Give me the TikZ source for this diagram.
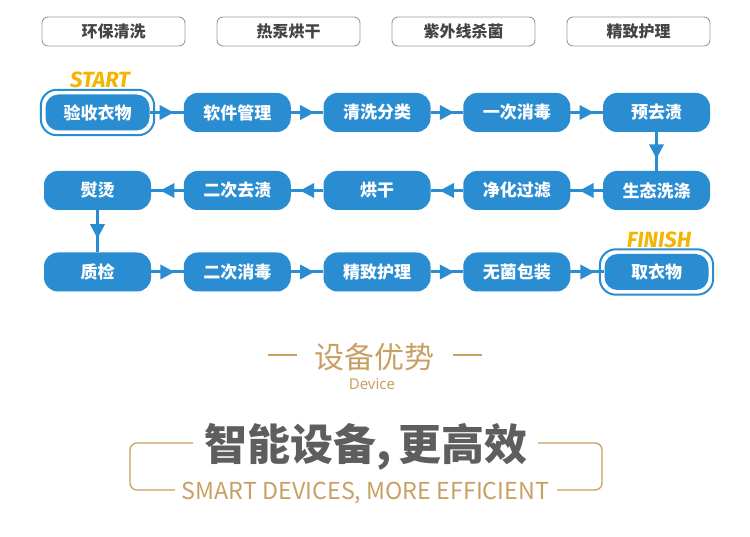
\documentclass[tikz,border=0pt]{standalone}
\usepackage{fontspec}
\usetikzlibrary{decorations.markings}
\newfontfamily\cjk{Noto Sans CJK SC}
\newfontfamily\latin{Noto Sans}
\newfontfamily\tagfont{Fira Sans}
\definecolor{flowblue}{HTML}{2A8DD2}
\definecolor{tabgray}{HTML}{9A9A9A}
\definecolor{tabtext}{HTML}{444444}
\definecolor{gold}{HTML}{C9A064}
\definecolor{titlegray}{HTML}{5E5E5E}
\definecolor{tagyellow}{HTML}{F5B400}
\tikzset{
  tabbox/.style={draw=tabgray, line width=0.9pt, rounded corners=6pt, fill=white,
    minimum width=143pt, minimum height=29pt, inner sep=0pt,
    text=tabtext, font=\cjk\bfseries\fontsize{16}{16}\selectfont},
  stepbox/.style={fill=flowblue, rounded corners=14pt,
    minimum width=107pt, minimum height=39pt, inner sep=0pt,
    text=white, font=\cjk\bfseries\fontsize{17}{17}\selectfont},
  endbox/.style={stepbox, minimum width=104pt, minimum height=36pt, rounded corners=13pt},
  ring/.style={draw=flowblue, line width=2pt, rounded corners=16pt},
  flow/.style={draw=flowblue, line width=3pt,
    postaction={decorate, decoration={markings,
      mark=at position 0.5 with {\fill[flowblue] (-7pt,-7.5pt) -- (7pt,0pt) -- (-7pt,7.5pt) -- cycle;}}}},
  tag/.style={text=tagyellow, font=\tagfont\bfseries\itshape\fontsize{22}{22}\selectfont, inner sep=0pt},
  goldline/.style={draw=gold, line width=1.3pt},
}
\begin{document}
\begin{tikzpicture}[x=1pt,y=-1pt]
\useasboundingbox[fill=white] (0,0) rectangle (750,537);

% feature tabs
\node[tabbox] (t1) at (113.5,31.5) {环保清洗};
\node[tabbox] (t2) at (288.5,31.5) {热泵烘干};
\node[tabbox] (t3) at (463.5,31.5) {紫外线杀菌};
\node[tabbox] (t4) at (638.5,31.5) {精致护理};

% process steps, row 1
\node[endbox]  (s1) at (97.5,112.5)   {验收衣物};
\node[stepbox] (s2) at (237.25,112.5) {软件管理};
\node[stepbox] (s3) at (377,112.5)    {清洗分类};
\node[stepbox] (s4) at (516.75,112.5) {一次消毒};
\node[stepbox] (s5) at (656.5,112.5)  {预去渍};
% row 2
\node[stepbox] (s6)  at (656.5,190.5)  {生态洗涤};
\node[stepbox] (s7)  at (516.75,190.5) {净化过滤};
\node[stepbox] (s8)  at (377,190.5)    {烘干};
\node[stepbox] (s9)  at (237.25,190.5) {二次去渍};
\node[stepbox] (s10) at (97.5,190.5)   {熨烫};
% row 3
\node[stepbox] (s11) at (97.5,272)   {质检};
\node[stepbox] (s12) at (237.25,272) {二次消毒};
\node[stepbox] (s13) at (377,272)    {精致护理};
\node[stepbox] (s14) at (516.75,272) {无菌包装};
\node[endbox]  (s15) at (656.5,272)  {取衣物};

% outer rings of the start and finish steps
\draw[ring] ([shift={(-4.5pt,-4.5pt)}]s1.south west) rectangle ([shift={(4.5pt,4.5pt)}]s1.north east);
\draw[ring] ([shift={(-4.5pt,-4.5pt)}]s15.south west) rectangle ([shift={(4.5pt,4.5pt)}]s15.north east);

\node[tag] (start)  at (100,80)  {START};
\node[tag] (finish) at (659,240) {FINISH};

% connectors
\draw[flow] (s1.east) -- (s2.west);
\draw[flow] (s2.east) -- (s3.west);
\draw[flow] (s3.east) -- (s4.west);
\draw[flow] (s4.east) -- (s5.west);
\draw[flow] (s5.south) -- (s6.north);
\draw[flow] (s6.west) -- (s7.east);
\draw[flow] (s7.west) -- (s8.east);
\draw[flow] (s8.west) -- (s9.east);
\draw[flow] (s9.west) -- (s10.east);
\draw[flow] (s10.south) -- (s11.north);
\draw[flow] (s11.east) -- (s12.west);
\draw[flow] (s12.east) -- (s13.west);
\draw[flow] (s13.east) -- (s14.west);
\draw[flow] (s14.east) -- (s15.west);

% device heading
\node[text=gold, font=\cjk\fontsize{30}{30}\selectfont, inner sep=0pt] (dev) at (374,357) {设备优势};
\draw[goldline] (268,355) -- (297,355);
\draw[goldline] (453,355) -- (482,355);
\node[text=gold, font=\latin\fontsize{15}{15}\selectfont, inner sep=0pt] (devsub) at (372,384) {Device};

% slogan with bracket frame
\node[text=titlegray, font=\cjk\bfseries\fontsize{43}{43}\selectfont, inner sep=0pt] (slogan) at (366,447) {智能设备,\hspace{6pt}更高效};
\draw[goldline, rounded corners=7pt] (193,443) -- (130,443) -- (130,490) -- (175,490);
\draw[goldline, rounded corners=7pt] (538,443) -- (602,443) -- (602,490) -- (557,490);
\node[text=gold, font=\cjk\fontsize{23.3}{23.3}\selectfont, inner sep=0pt] (sub) at (365.5,493) {SMART DEVICES, MORE EFFICIENT};
\end{tikzpicture}
\end{document}
